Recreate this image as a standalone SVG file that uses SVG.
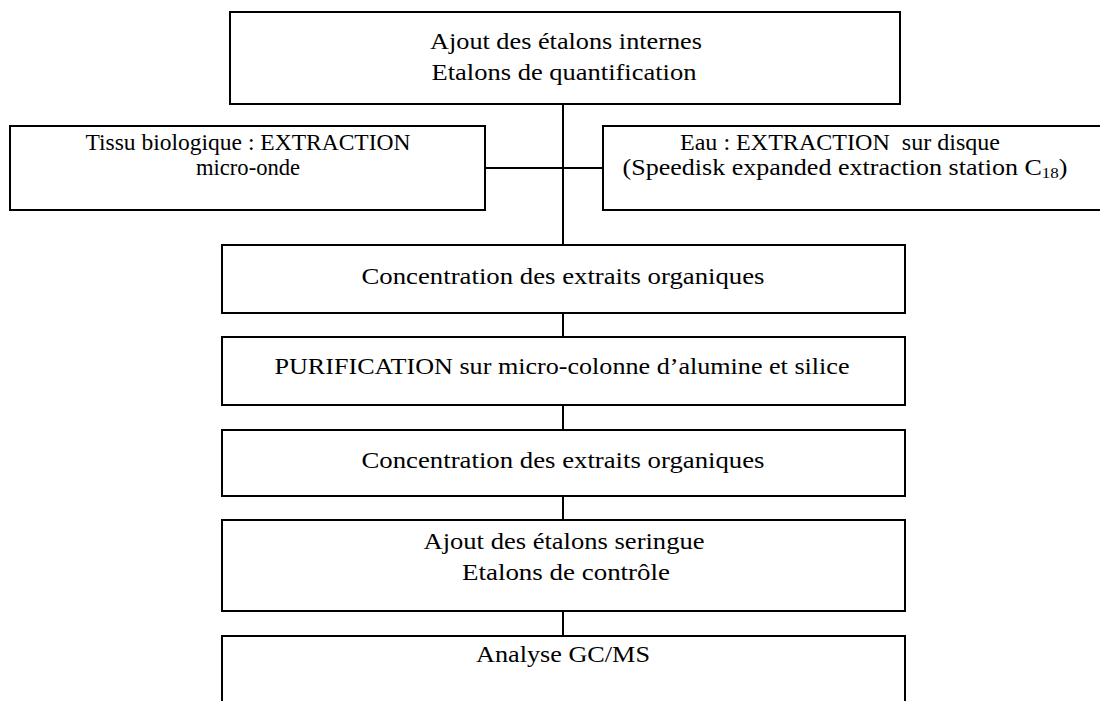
<svg xmlns="http://www.w3.org/2000/svg" width="1100" height="701" viewBox="0 0 1100 701">
  <style>
    .box { fill: #ffffff; stroke: #000000; stroke-width: 2; }
    .link { stroke: #000000; stroke-width: 2; fill: none; }
    .label { font-family: "Liberation Serif", "DejaVu Serif", serif; font-size: 23px; fill: #000000; text-anchor: middle; }
    .sub { font-size: 15px; }
  </style>
  <rect width="1100" height="701" fill="#ffffff"/>

  <!-- connectors: main trunk, branch to the two extraction boxes, and links between steps -->
  <g id="connectors">
    <line class="link" x1="563" y1="104" x2="563" y2="245"/>
    <line class="link" x1="485" y1="168" x2="603" y2="168"/>
    <line class="link" x1="563" y1="313" x2="563" y2="337"/>
    <line class="link" x1="563" y1="405" x2="563" y2="430"/>
    <line class="link" x1="563" y1="496" x2="563" y2="520"/>
    <line class="link" x1="563" y1="611" x2="563" y2="636"/>
  </g>

  <g id="ajout-internes">
    <rect class="box" x="230" y="12" width="670" height="92"/>
    <text class="label" x="566" y="49" textLength="272" lengthAdjust="spacingAndGlyphs">Ajout des étalons internes</text>
    <text class="label" x="564" y="80" textLength="265" lengthAdjust="spacingAndGlyphs">Etalons de quantification</text>
  </g>

  <g id="extraction-tissu">
    <rect class="box" x="10" y="126" width="475" height="84"/>
    <text class="label" x="248" y="150" textLength="325" lengthAdjust="spacingAndGlyphs">Tissu biologique : EXTRACTION</text>
    <text class="label" x="248" y="175" textLength="104" lengthAdjust="spacingAndGlyphs">micro-onde</text>
  </g>

  <g id="extraction-eau">
    <rect class="box" x="603" y="126" width="520" height="84"/>
    <text class="label" x="840" y="150" textLength="320" lengthAdjust="spacingAndGlyphs" xml:space="preserve">Eau : EXTRACTION  sur disque</text>
    <text class="label" x="845" y="175" textLength="445" lengthAdjust="spacingAndGlyphs">(Speedisk expanded extraction station C<tspan class="sub" dy="3">18</tspan><tspan dy="-3">)</tspan></text>
  </g>

  <g id="concentration-1">
    <rect class="box" x="222" y="245" width="683" height="68"/>
    <text class="label" x="563" y="284" textLength="403" lengthAdjust="spacingAndGlyphs">Concentration des extraits organiques</text>
  </g>

  <g id="purification">
    <rect class="box" x="222" y="337" width="683" height="68"/>
    <text class="label" x="562" y="374" textLength="575" lengthAdjust="spacingAndGlyphs">PURIFICATION sur micro-colonne d’alumine et silice</text>
  </g>

  <g id="concentration-2">
    <rect class="box" x="222" y="430" width="683" height="66"/>
    <text class="label" x="563" y="468" textLength="403" lengthAdjust="spacingAndGlyphs">Concentration des extraits organiques</text>
  </g>

  <g id="ajout-seringue">
    <rect class="box" x="222" y="520" width="683" height="91"/>
    <text class="label" x="564" y="549" textLength="281" lengthAdjust="spacingAndGlyphs">Ajout des étalons seringue</text>
    <text class="label" x="566" y="580" textLength="208" lengthAdjust="spacingAndGlyphs">Etalons de contrôle</text>
  </g>

  <g id="analyse">
    <rect class="box" x="222" y="636" width="683" height="80"/>
    <text class="label" x="563" y="662" textLength="174" lengthAdjust="spacingAndGlyphs">Analyse GC/MS</text>
  </g>
</svg>
